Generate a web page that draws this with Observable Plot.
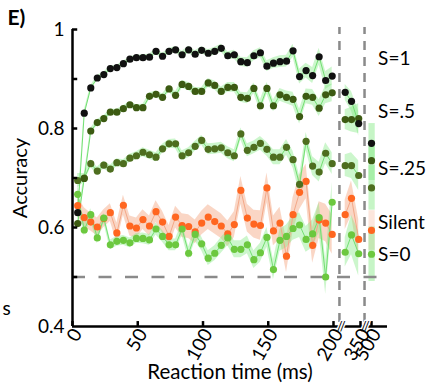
<!DOCTYPE html>
<html><head><meta charset="utf-8">
<script src="https://cdn.jsdelivr.net/npm/d3@7"></script>
<script src="https://cdn.jsdelivr.net/npm/@observablehq/plot@0.6"></script>
<style>body{margin:0;background:#fff} svg{display:block}</style>
</head><body><div id="chart"></div>
<script>
// reaction-time bins (ms): 40 bins up to 200, 3 bins in 200–350, 1 bin at 500
const times = [4,9,14,19,24,29,34,39,44,49,54,59,64,69,74,79,84,89,94,99,
  104,109,114,119,124,129,134,139,144,149,154,159,164,169,174,179,184,189,194,199,
  265,300,340, 500];

const seriesNames = ["S=1","S=.5","S=.25","Silent","S=0"];

const accS1 = [0.630,0.831,0.882,0.902,0.909,0.921,0.923,0.931,0.940,0.943,0.943,0.944,0.956,0.946,0.956,0.959,0.949,0.959,0.950,0.958,
  0.952,0.956,0.962,0.947,0.949,0.935,0.933,0.947,0.953,0.926,0.932,0.935,0.936,0.957,0.905,0.917,0.907,0.945,0.897,0.906,
  0.873,0.855,0.810, 0.770];
const errS1 = [0.012,0.006,0.005,0.005,0.005,0.005,0.005,0.005,0.005,0.005,0.006,0.006,0.006,0.006,0.006,0.006,0.007,0.007,0.007,0.007,
  0.007,0.008,0.008,0.008,0.009,0.009,0.010,0.010,0.010,0.011,0.011,0.012,0.012,0.013,0.015,0.015,0.016,0.017,0.018,0.018,
  0.016,0.020,0.025, 0.040];

const accS5 = [0.608,0.699,0.795,0.812,0.820,0.833,0.833,0.840,0.848,0.842,0.842,0.865,0.869,0.863,0.880,0.867,0.889,0.885,0.875,0.875,
  0.892,0.887,0.875,0.883,0.883,0.863,0.861,0.881,0.846,0.881,0.846,0.868,0.863,0.859,0.824,0.865,0.863,0.841,0.868,0.872,
  0.818,0.818,0.820, 0.735];
const errS5 = [0.012,0.008,0.006,0.006,0.006,0.006,0.006,0.006,0.006,0.006,0.007,0.007,0.007,0.007,0.007,0.008,0.008,0.008,0.008,0.008,
  0.009,0.009,0.009,0.010,0.010,0.010,0.011,0.011,0.012,0.012,0.012,0.013,0.013,0.014,0.015,0.015,0.016,0.017,0.018,0.018,
  0.020,0.025,0.030, 0.040];

const accS25 = [0.695,0.700,0.729,0.714,0.726,0.718,0.731,0.729,0.740,0.745,0.752,0.747,0.742,0.759,0.769,0.769,0.745,0.751,0.764,0.776,
  0.758,0.759,0.761,0.751,0.745,0.789,0.756,0.762,0.770,0.758,0.742,0.742,0.762,0.737,0.687,0.774,0.724,0.712,0.750,0.729,
  0.725,0.725,0.705, 0.680];
const errS25 = [0.014,0.009,0.008,0.008,0.008,0.008,0.008,0.008,0.008,0.008,0.009,0.009,0.009,0.009,0.009,0.010,0.010,0.010,0.010,0.010,
  0.011,0.011,0.011,0.012,0.012,0.012,0.013,0.013,0.014,0.014,0.015,0.015,0.016,0.017,0.018,0.018,0.019,0.020,0.021,0.022,
  0.022,0.026,0.030, 0.045];

const accSilent = [0.644,0.620,0.611,0.601,0.618,0.630,0.589,0.645,0.603,0.599,0.616,0.603,0.632,0.611,0.582,0.621,0.604,0.602,0.591,0.609,
  0.621,0.612,0.603,0.587,0.606,0.675,0.619,0.607,0.604,0.680,0.593,0.609,0.542,0.626,0.671,0.693,0.564,0.615,0.609,0.586,
  0.626,0.659,0.576, 0.594];
const errSilent = [0.020,0.020,0.018,0.018,0.018,0.018,0.020,0.020,0.020,0.020,0.020,0.020,0.022,0.022,0.022,0.022,0.024,0.024,0.024,0.024,
  0.025,0.025,0.025,0.026,0.026,0.028,0.028,0.028,0.030,0.030,0.030,0.032,0.033,0.034,0.035,0.035,0.036,0.037,0.038,0.040,
  0.030,0.035,0.040, 0.040];

const accS0 = [0.667,0.595,0.626,0.579,0.619,0.565,0.572,0.574,0.569,0.578,0.578,0.575,0.597,0.582,0.565,0.565,0.597,0.548,0.586,0.567,
  0.538,0.548,0.564,0.579,0.556,0.556,0.565,0.535,0.549,0.580,0.515,0.574,0.582,0.598,0.605,0.576,0.587,0.620,0.500,0.651,
  0.550,0.585,0.547, 0.546];
const errS0 = [0.020,0.012,0.012,0.012,0.010,0.010,0.010,0.010,0.010,0.010,0.011,0.011,0.012,0.012,0.012,0.012,0.013,0.013,0.014,0.014,
  0.015,0.015,0.016,0.016,0.017,0.017,0.018,0.018,0.019,0.020,0.020,0.022,0.023,0.024,0.025,0.026,0.028,0.030,0.035,0.040,
  0.030,0.040,0.045, 0.055];

const xTicks = [0,50,100,150,200,350,500];
const yTicks = [0.4,0.6,0.8,1];
const yMinorTicks = [0.5,0.6,0.7,0.8,0.9,1];
const axisBreaks = [233,405];
const chanceLevel = 0.5;
const labelAcc = [0.941,0.834,0.719,0.610,0.545];

const accs = [accS1,accS5,accS25,accSilent,accS0];
const errs = [errS1,errS5,errS25,errSilent,errS0];
const dotColor = ["#111111","#3c5a12","#4e6e1f","#ff6620","#6cc83f"];
const bandColor = ["#80e880","#80e880","#80e880","#f5ad8c","#80e880"];
const lineColor = ["#72e072","#72e072","#72e072","#f3a888","#72e072"];

const rows = seriesNames.map((name,i) => times.map((t,j) => ({
  name, t, acc: accs[i][j], err: errs[i][j], seg: t <= 200 ? 0 : t < 400 ? 1 : 2
})));

const font = "Lato, 'Open Sans', sans-serif";
const marks = [];
// bands
[3,4,2,1,0].forEach(i => {
  const r = rows[i];
  marks.push(Plot.areaY(r.filter(d => d.seg < 2), {x: "t", y1: d => d.acc - d.err, y2: d => d.acc + d.err, z: "seg",
    fill: bandColor[i], fillOpacity: i === 3 ? 0.5 : 0.4}));
  marks.push(Plot.rect(r.filter(d => d.seg === 2), {x1: d => d.t - 35, x2: d => d.t + 35, y1: d => d.acc - d.err, y2: d => d.acc + d.err,
    fill: bandColor[i], fillOpacity: i === 3 ? 0.3 : 0.45}));
});
// lines
[3,4,2,1,0].forEach(i => {
  marks.push(Plot.line(rows[i].filter(d => d.seg < 2), {x: "t", y: "acc", z: "seg", stroke: lineColor[i], strokeWidth: 1}));
});
// dashed reference lines
marks.push(Plot.ruleY([chanceLevel], {x1: 0, x2: 565, stroke: "#8a8a8a", strokeWidth: 2.5, strokeDasharray: "13,13.5"}));
marks.push(Plot.ruleX(axisBreaks, {y1: 0.408, y2: 1.004, stroke: "#8a8a8a", strokeWidth: 2.5, strokeDasharray: "9,7"}));
// dots
[3,4,2,1,0].forEach(i => {
  marks.push(Plot.dot(rows[i], {x: "t", y: "acc", r: 3.6, fill: dotColor[i], stroke: "none"}));
});
// axes lines & ticks
marks.push(Plot.ruleX([0], {y1: 0.4, y2: 1, stroke: "#000", strokeWidth: 2.5}));
marks.push(Plot.ruleY([0.4], {x1: 0, x2: 650, stroke: "#000", strokeWidth: 2.5}));
marks.push(Plot.ruleY(yMinorTicks, {y: d => d, x1: 0, x2: 4, stroke: "#000", strokeWidth: 2.5}));
marks.push(Plot.ruleX(xTicks, {x: d => d, y1: 0.4, y2: 0.41, stroke: "#000", strokeWidth: 2.5}));
marks.push(Plot.text(axisBreaks.map(b => b + 10), {x: d => d, y: 0.4, text: () => "//", fontSize: 13, fill: "#000", stroke: "#fff", strokeWidth: 3, paintOrder: "stroke", fontFamily: font}));
marks.push(Plot.axisY({ticks: yTicks, tickSize: 0, tickPadding: 8, fontSize: 19, fontFamily: font, tickFormat: d => d === 1 ? "1" : d.toFixed(1), label: null, fill: "#000"}));
marks.push(Plot.axisX({ticks: xTicks, tickSize: 0, tickPadding: 4, tickRotate: -60, fontSize: 19, fontFamily: font, tickFormat: d => String(d), label: null, dx: 5, fill: "#000"}));
// series labels
marks.push(Plot.text(seriesNames, {x: 562, y: (d,i) => labelAcc[i], text: d => d, textAnchor: "start", fontSize: 19, fontFamily: font, fill: "#000"}));
// titles
marks.push(Plot.text(["Reaction time (ms)"], {frameAnchor: "bottom", dy: 52, text: d => d, fontSize: 20.5, fontFamily: font, fill: "#000"}));
marks.push(Plot.text(["Accuracy"], {x: 0, y: 0.7, dx: -52, dy: 0, rotate: -90, text: d => d, fontSize: 20, fontFamily: font, fill: "#000"}));
marks.push(Plot.text(["E)"], {frameAnchor: "top-left", dx: -65, dy: -5, lineAnchor: "bottom", textAnchor: "start", text: d => d, fontSize: 21, fontWeight: "bold", fontFamily: font, fill: "#000"}));
marks.push(Plot.text(["s"], {frameAnchor: "bottom-left", dx: -70, dy: -12, lineAnchor: "bottom", textAnchor: "start", text: d => d, fontSize: 19, fontFamily: font, fill: "#000"}));

const chart = Plot.plot({
  width: 428, height: 389,
  marginLeft: 72, marginRight: 41, marginTop: 29, marginBottom: 63,
  style: {fontFamily: font, background: "#fff"},
  x: {type: "linear", domain: [0,200,350,500,650], range: [72,333,360,371,387]},
  y: {type: "linear", domain: [0.4,1], range: [326,29]},
  marks
});
document.getElementById("chart").appendChild(chart);
</script></body></html>
